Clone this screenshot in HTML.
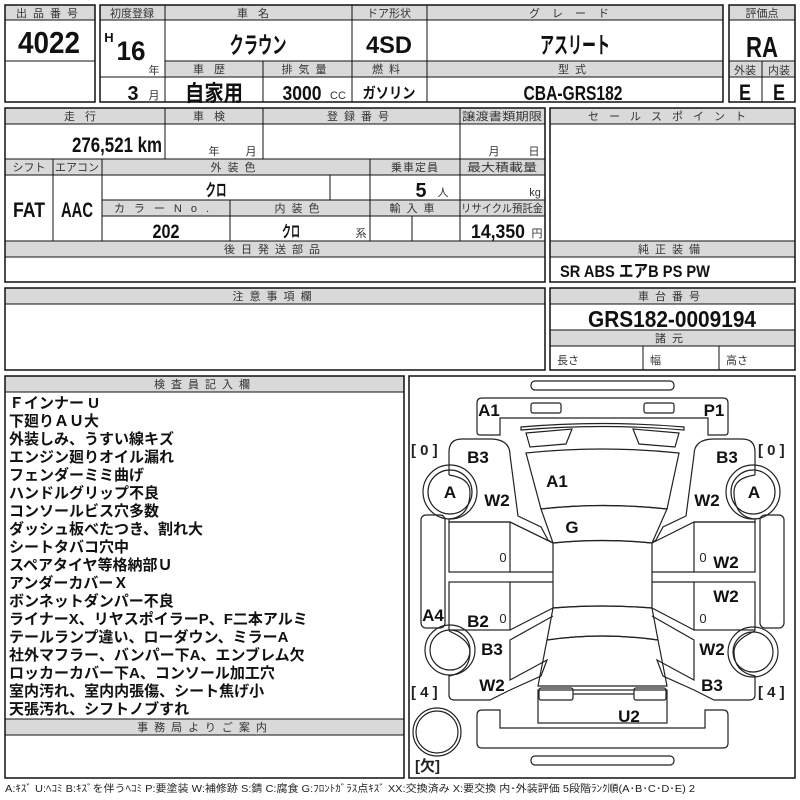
<!DOCTYPE html>
<html><head><meta charset="utf-8">
<style>
html,body{margin:0;padding:0;background:#fff;}
svg{display:block;}
text{font-family:"Liberation Sans","Noto Sans CJK JP",sans-serif;}
.h{font-size:11px;fill:#333;text-anchor:middle;}
.v{font-family:"Liberation Sans","Noto Sans CJK JP",sans-serif;font-weight:bold;fill:#111;text-anchor:middle;}
.j{font-family:"Noto Sans CJK JP",sans-serif;font-weight:bold;fill:#111;text-anchor:middle;}
.s{font-size:10px;fill:#222;}
.l{font-family:"Noto Sans CJK JP",sans-serif;font-weight:bold;font-size:15px;fill:#111;}
.d{font-family:"Liberation Sans","Noto Sans CJK JP",sans-serif;font-weight:bold;font-size:17px;fill:#111;text-anchor:middle;}
.st{text-anchor:start;}
.g{fill:#d9d9d9;}
.b{fill:none;stroke:#111;stroke-width:1.5;}
.ln{stroke:#111;stroke-width:1;}
.c{fill:none;stroke:#222;stroke-width:1.2;}
</style></head><body>
<svg width="800" height="800" viewBox="0 0 800 800" xmlns="http://www.w3.org/2000/svg">
<!-- Block 1 -->
<rect class="g" x="5" y="5" width="90" height="15"/>
<rect class="b" x="5" y="5" width="90" height="97"/>
<line class="ln" x1="5" y1="20" x2="95" y2="20"/><line class="ln" x1="5" y1="61" x2="95" y2="61"/>
<text class="h" x="50" y="17" style="letter-spacing:6px">出品番号</text>
<text class="v" x="49" y="53" font-size="31" textLength="62" lengthAdjust="spacingAndGlyphs">4022</text>

<!-- Block 2 -->
<rect class="g" x="100" y="5" width="623" height="15"/>
<rect class="g" x="165" y="61" width="558" height="16"/>
<rect class="b" x="100" y="5" width="623" height="97"/>
<line class="ln" x1="100" y1="20" x2="723" y2="20"/>
<line class="ln" x1="165" y1="61" x2="723" y2="61"/>
<line class="ln" x1="100" y1="77" x2="723" y2="77"/>
<line class="ln" x1="165" y1="5" x2="165" y2="102"/>
<line class="ln" x1="352" y1="5" x2="352" y2="102"/>
<line class="ln" x1="427" y1="5" x2="427" y2="102"/>
<line class="ln" x1="263" y1="61" x2="263" y2="102"/>
<text class="h" x="132" y="17">初度登録</text>
<text class="h" x="258" y="17" style="letter-spacing:10px">車名</text>
<text class="h" x="389" y="17">ドア形状</text>
<text class="h" x="575" y="17" style="letter-spacing:12px">グレード</text>
<text class="v" x="109" y="42" font-size="13">H</text>
<text class="v" x="131" y="60" font-size="27" textLength="29" lengthAdjust="spacingAndGlyphs">16</text>
<text class="h" x="154" y="74">年</text>
<text class="j" x="258" y="53" font-size="23" textLength="57" lengthAdjust="spacingAndGlyphs">クラウン</text>
<text class="v" x="389" y="53" font-size="24" textLength="46" lengthAdjust="spacingAndGlyphs">4SD</text>
<text class="j" x="575" y="53" font-size="23" textLength="70" lengthAdjust="spacingAndGlyphs">アスリート</text>
<text class="h" x="214" y="73" style="letter-spacing:10px">車歴</text>
<text class="h" x="307" y="73" style="letter-spacing:6px">排気量</text>
<text class="h" x="389" y="73" style="letter-spacing:6px">燃料</text>
<text class="h" x="575" y="73" style="letter-spacing:6px">型式</text>
<text class="v" x="133" y="100" font-size="20" textLength="11" lengthAdjust="spacingAndGlyphs">3</text>
<text class="h" x="154" y="99">月</text>
<text class="j" x="214" y="101" font-size="22" textLength="58" lengthAdjust="spacingAndGlyphs">自家用</text>
<text class="v" x="302" y="100" font-size="20" textLength="39" lengthAdjust="spacingAndGlyphs">3000</text>
<text class="h" x="338" y="99" font-size="10">CC</text>
<text class="j" x="389" y="98" font-size="15" textLength="53" lengthAdjust="spacingAndGlyphs">ガソリン</text>
<text class="v" x="573" y="100" font-size="20" textLength="99" lengthAdjust="spacingAndGlyphs">CBA-GRS182</text>

<!-- 評価点 -->
<rect class="g" x="729" y="5" width="66" height="15"/>
<rect class="g" x="729" y="61" width="66" height="16"/>
<rect class="b" x="729" y="5" width="66" height="97"/>
<line class="ln" x1="729" y1="20" x2="795" y2="20"/>
<line class="ln" x1="729" y1="61" x2="795" y2="61"/>
<line class="ln" x1="729" y1="77" x2="795" y2="77"/>
<line class="ln" x1="762" y1="61" x2="762" y2="102"/>
<text class="h" x="762" y="17">評価点</text>
<text class="v" x="762" y="57" font-size="29" textLength="32" lengthAdjust="spacingAndGlyphs">RA</text>
<text class="h" x="745" y="74">外装</text>
<text class="h" x="779" y="74">内装</text>
<text class="v" x="745" y="100" font-size="22" textLength="12" lengthAdjust="spacingAndGlyphs">E</text>
<text class="v" x="779" y="100" font-size="22" textLength="12" lengthAdjust="spacingAndGlyphs">E</text>

<!-- Block 3 -->
<rect class="g" x="5" y="108" width="540" height="16"/>
<rect class="g" x="5" y="159" width="540" height="16"/>
<rect class="g" x="102" y="200" width="443" height="16"/>
<rect class="g" x="5" y="241" width="540" height="16"/>
<rect class="b" x="5" y="108" width="540" height="174"/>
<line class="ln" x1="5" y1="124" x2="545" y2="124"/>
<line class="ln" x1="5" y1="159" x2="545" y2="159"/>
<line class="ln" x1="5" y1="175" x2="545" y2="175"/>
<line class="ln" x1="102" y1="200" x2="545" y2="200"/>
<line class="ln" x1="102" y1="216" x2="545" y2="216"/>
<line class="ln" x1="5" y1="241" x2="545" y2="241"/>
<line class="ln" x1="5" y1="257" x2="545" y2="257"/>
<line class="ln" x1="165" y1="108" x2="165" y2="159"/>
<line class="ln" x1="263" y1="108" x2="263" y2="159"/>
<line class="ln" x1="460" y1="108" x2="460" y2="241"/>
<line class="ln" x1="53" y1="159" x2="53" y2="241"/>
<line class="ln" x1="102" y1="159" x2="102" y2="241"/>
<line class="ln" x1="370" y1="159" x2="370" y2="241"/>
<line class="ln" x1="330" y1="175" x2="330" y2="200"/>
<line class="ln" x1="230" y1="200" x2="230" y2="241"/>
<line class="ln" x1="412" y1="216" x2="412" y2="241"/>
<text class="h" x="85" y="120" style="letter-spacing:10px">走行</text>
<text class="h" x="214" y="120" style="letter-spacing:10px">車検</text>
<text class="h" x="361" y="120" style="letter-spacing:6px">登録番号</text>
<text class="h" x="502" y="120" textLength="80" lengthAdjust="spacingAndGlyphs">譲渡書類期限</text>
<text class="v st" x="72" y="152" font-size="21" textLength="90" lengthAdjust="spacingAndGlyphs">276,521 km</text>
<text class="h" x="214" y="155">年</text>
<text class="h" x="251" y="155">月</text>
<text class="h" x="494" y="155">月</text>
<text class="h" x="534" y="155">日</text>
<text class="h" x="29" y="171" font-size="10">シフト</text>
<text class="h" x="77" y="171" textLength="44" lengthAdjust="spacingAndGlyphs">エアコン</text>
<text class="h" x="236" y="171" style="letter-spacing:6px">外装色</text>
<text class="h" x="415" y="171" style="letter-spacing:1px">乗車定員</text>
<text class="h" x="502" y="171" textLength="70" lengthAdjust="spacingAndGlyphs">最大積載量</text>
<text class="v" x="29" y="217" font-size="21" textLength="32" lengthAdjust="spacingAndGlyphs">FAT</text>
<text class="v" x="77" y="217" font-size="21" textLength="32" lengthAdjust="spacingAndGlyphs">AAC</text>
<text class="j" x="216" y="196" font-size="17" textLength="21" lengthAdjust="spacingAndGlyphs">クロ</text>
<text class="v" x="421" y="197" font-size="20" textLength="11" lengthAdjust="spacingAndGlyphs">5</text>
<text class="h" x="443" y="196">人</text>
<text class="h" x="535" y="196">kg</text>
<text class="h" x="166" y="212" style="letter-spacing:9px">カラーNo.</text>
<text class="h" x="300" y="212" style="letter-spacing:6px">内装色</text>
<text class="h" x="415" y="212" style="letter-spacing:6px">輸入車</text>
<text class="h" x="502" y="212" textLength="82" lengthAdjust="spacingAndGlyphs">リサイクル預託金</text>
<text class="v" x="166" y="238" font-size="19" textLength="27" lengthAdjust="spacingAndGlyphs">202</text>
<text class="j" x="291" y="237" font-size="16" textLength="18" lengthAdjust="spacingAndGlyphs">クロ</text>
<text class="h" x="361" y="237">系</text>
<text class="v st" x="471" y="238" font-size="19" textLength="54" lengthAdjust="spacingAndGlyphs">14,350</text>
<text class="h" x="537" y="237">円</text>
<text class="h" x="275" y="253" style="letter-spacing:6px">後日発送部品</text>

<!-- Sales point -->
<rect class="g" x="550" y="108" width="245" height="16"/>
<rect class="g" x="550" y="241" width="245" height="16"/>
<rect class="b" x="550" y="108" width="245" height="174"/>
<line class="ln" x1="550" y1="124" x2="795" y2="124"/>
<line class="ln" x1="550" y1="241" x2="795" y2="241"/>
<line class="ln" x1="550" y1="257" x2="795" y2="257"/>
<text class="h" x="672" y="120" style="letter-spacing:10px">セールスポイント</text>
<text class="h" x="672" y="253" style="letter-spacing:6px">純正装備</text>
<text class="v st" x="560" y="277" font-size="17" textLength="150" lengthAdjust="spacingAndGlyphs">SR  ABS  エアB  PS  PW</text>

<!-- 注意事項欄 -->
<rect class="g" x="5" y="288" width="540" height="16"/>
<rect class="b" x="5" y="288" width="540" height="82"/>
<line class="ln" x1="5" y1="304" x2="545" y2="304"/>
<text class="h" x="275" y="300" style="letter-spacing:6px">注意事項欄</text>

<!-- 車台番号 -->
<rect class="g" x="550" y="288" width="245" height="16"/>
<rect class="g" x="550" y="330" width="245" height="16"/>
<rect class="b" x="550" y="288" width="245" height="82"/>
<line class="ln" x1="550" y1="304" x2="795" y2="304"/>
<line class="ln" x1="550" y1="330" x2="795" y2="330"/>
<line class="ln" x1="550" y1="346" x2="795" y2="346"/>
<line class="ln" x1="643" y1="346" x2="643" y2="370"/>
<line class="ln" x1="719" y1="346" x2="719" y2="370"/>
<text class="h" x="672" y="300" style="letter-spacing:6px">車台番号</text>
<text class="v" x="672" y="327" font-size="23" textLength="168" lengthAdjust="spacingAndGlyphs">GRS182-0009194</text>
<text class="h" x="672" y="342" style="letter-spacing:6px">諸元</text>
<text class="h st" x="557" y="364">長さ</text>
<text class="h st" x="650" y="364">幅</text>
<text class="h st" x="726" y="364">高さ</text>

<!-- 検査員記入欄 -->
<rect class="g" x="5" y="376" width="399" height="16"/>
<rect class="g" x="5" y="719" width="399" height="16"/>
<rect class="b" x="5" y="376" width="399" height="402"/>
<line class="ln" x1="5" y1="392" x2="404" y2="392"/>
<line class="ln" x1="5" y1="719" x2="404" y2="719"/>
<line class="ln" x1="5" y1="735" x2="404" y2="735"/>
<text class="h" x="205" y="388" style="letter-spacing:6px">検査員記入欄</text>
<text class="h" x="205" y="731" style="letter-spacing:6px">事務局よりご案内</text>
<g class="l">
<text x="9" y="408">Ｆインナー U</text>
<text x="9" y="426">下廻りＡＵ大</text>
<text x="9" y="444">外装しみ、うすい線キズ</text>
<text x="9" y="462">エンジン廻りオイル漏れ</text>
<text x="9" y="480">フェンダーミミ曲げ</text>
<text x="9" y="498">ハンドルグリップ不良</text>
<text x="9" y="516">コンソールビス穴多数</text>
<text x="9" y="534">ダッシュ板べたつき、割れ大</text>
<text x="9" y="552">シートタバコ穴中</text>
<text x="9" y="570">スペアタイヤ等格納部Ｕ</text>
<text x="9" y="588">アンダーカバーＸ</text>
<text x="9" y="606">ボンネットダンパー不良</text>
<text x="9" y="624">ライナーX、リヤスポイラーP、F二本アルミ</text>
<text x="9" y="642">テールランプ違い、ローダウン、ミラーA</text>
<text x="9" y="660">社外マフラー、バンパー下A、エンブレム欠</text>
<text x="9" y="678">ロッカーカバー下A、コンソール加工穴</text>
<text x="9" y="696">室内汚れ、室内内張傷、シート焦げ小</text>
<text x="9" y="714">天張汚れ、シフトノブすれ</text>
</g>

<!-- Diagram -->
<rect class="b" x="409" y="376" width="386" height="402"/>
<g class="c">
<rect x="531" y="381" width="143" height="9" rx="4"/>
<rect x="531" y="756" width="143" height="9" rx="4"/>
<path d="M482 398 H723 Q728 398 728 403 V432 Q728 435 725 435 H708 V418 H500 V435 H480 Q477 435 477 432 V403 Q477 398 482 398 Z"/>
<rect x="531" y="403" width="30" height="10" rx="2"/>
<rect x="644" y="403" width="30" height="10" rx="2"/>
<path d="M521 427 Q602 420 684 427 L684 430 Q602 423 521 430 Z"/>
<path d="M526 433 L572 429 L566 444 L530 447 Z"/>
<path d="M679 433 L633 429 L639 444 L675 447 Z"/>
<path d="M526 453 Q602 445 679 453 L667 509 Q602 502 541 509 Z"/>
<path d="M541 509 Q602 502 667 509 L652 543 Q602 538 553 543 Z"/>
<path d="M553 543 Q602 538 652 543 L652 608 Q602 604 553 608 Z"/>
<path d="M553 608 Q602 604 652 608 L658 640 Q602 632 547 640 Z"/>
<path d="M547 640 Q602 632 658 640 L667 686 H538 Z"/>
<rect x="538" y="690" width="129" height="33"/>
<rect x="539" y="688" width="34" height="12" rx="2"/>
<rect x="634" y="688" width="32" height="12" rx="2"/>
<line x1="573" y1="694" x2="634" y2="694"/>
<path d="M482 710 H500 V728 H705 V710 H723 Q728 710 728 715 V743 Q728 748 723 748 H482 Q477 748 477 743 V715 Q477 710 482 710 Z"/>
<path d="M449 475 V452 Q449 439 462 439 H490 Q510 439 510 455 L518 516 L541 527 L548 540 L553 543 L510 522 H449 V519 Q470 517 470 492 Q470 478 449 475"/>
<path d="M755 475 V452 Q755 439 742 439 H714 Q694 439 694 455 L686 516 L663 527 L656 540 L652 543 L694 522 H755 V519 Q734 517 734 492 Q734 478 755 475"/>
<rect x="449" y="522" width="61" height="50"/>
<rect x="449" y="582" width="61" height="48"/>
<line x1="510" y1="522" x2="553" y2="543"/>
<line x1="510" y1="572" x2="553" y2="572"/><line x1="510" y1="582" x2="553" y2="582"/>
<line x1="510" y1="630" x2="553" y2="608"/>
<rect x="694" y="522" width="61" height="50"/>
<rect x="694" y="582" width="61" height="48"/>
<line x1="694" y1="572" x2="652" y2="572"/><line x1="694" y1="582" x2="652" y2="582"/>
<line x1="694" y1="630" x2="652" y2="608"/>
<path d="M449 631 Q470 640 470 652 Q470 672 449 676 V695 Q449 700 455 700 H490 L510 690 L541 676 L547 660 L510 680 V640 L553 616"/>
<path d="M755 631 Q734 640 734 652 Q734 672 755 676 V695 Q755 700 749 700 H714 L694 690 L663 676 L657 660 L694 680 V640 L652 616"/>
<rect x="421" y="515" width="24" height="113" rx="5"/>
<rect x="760" y="515" width="24" height="113" rx="5"/>
<circle cx="450" cy="492" r="27"/><circle cx="450" cy="492" r="22"/>
<circle cx="753" cy="492" r="27"/><circle cx="753" cy="492" r="22"/>
<circle cx="450" cy="650" r="25"/><circle cx="450" cy="650" r="20"/>
<circle cx="753" cy="652" r="25"/><circle cx="753" cy="652" r="20"/>
<circle cx="437" cy="732" r="24"/><circle cx="437" cy="732" r="21"/>
</g>
<g class="d">
<text x="489" y="416">A1</text>
<text x="714" y="416">P1</text>
<text x="478" y="463">B3</text>
<text x="727" y="463">B3</text>
<text x="450" y="498">A</text>
<text x="754" y="498">A</text>
<text x="497" y="506">W2</text>
<text x="707" y="506">W2</text>
<text x="557" y="487">A1</text>
<text x="572" y="533">G</text>
<text x="726" y="568">W2</text>
<text x="726" y="602">W2</text>
<text x="433" y="621">A4</text>
<text x="478" y="627">B2</text>
<text x="492" y="655">B3</text>
<text x="712" y="655">W2</text>
<text x="492" y="691">W2</text>
<text x="712" y="691">B3</text>
<text x="629" y="722">U2</text>
</g>
<g font-family="Liberation Sans,sans-serif" font-size="13" fill="#222">
<text x="503" y="562" text-anchor="middle">0</text>
<text x="703" y="562" text-anchor="middle">0</text>
<text x="503" y="623" text-anchor="middle">0</text>
<text x="703" y="623" text-anchor="middle">0</text>
</g>
<g font-family="Liberation Sans,Noto Sans CJK JP,sans-serif" font-size="15" fill="#222" font-weight="bold">
<text x="411" y="455">[ 0 ]</text>
<text x="758" y="455">[ 0 ]</text>
<text x="411" y="697">[ 4 ]</text>
<text x="758" y="697">[ 4 ]</text>
<text x="415" y="771">[欠]</text>
</g>

<text class="s" x="5" y="792" font-size="9.5" textLength="690" lengthAdjust="spacingAndGlyphs">A:ｷｽﾞ  U:ﾍｺﾐ  B:ｷｽﾞを伴うﾍｺﾐ  P:要塗装  W:補修跡  S:錆  C:腐食  G:ﾌﾛﾝﾄｶﾞﾗｽ点ｷｽﾞ  XX:交換済み  X:要交換   内･外装評価   5段階ﾗﾝｸ順(A･B･C･D･E) 2</text>
</svg>
</body></html>
